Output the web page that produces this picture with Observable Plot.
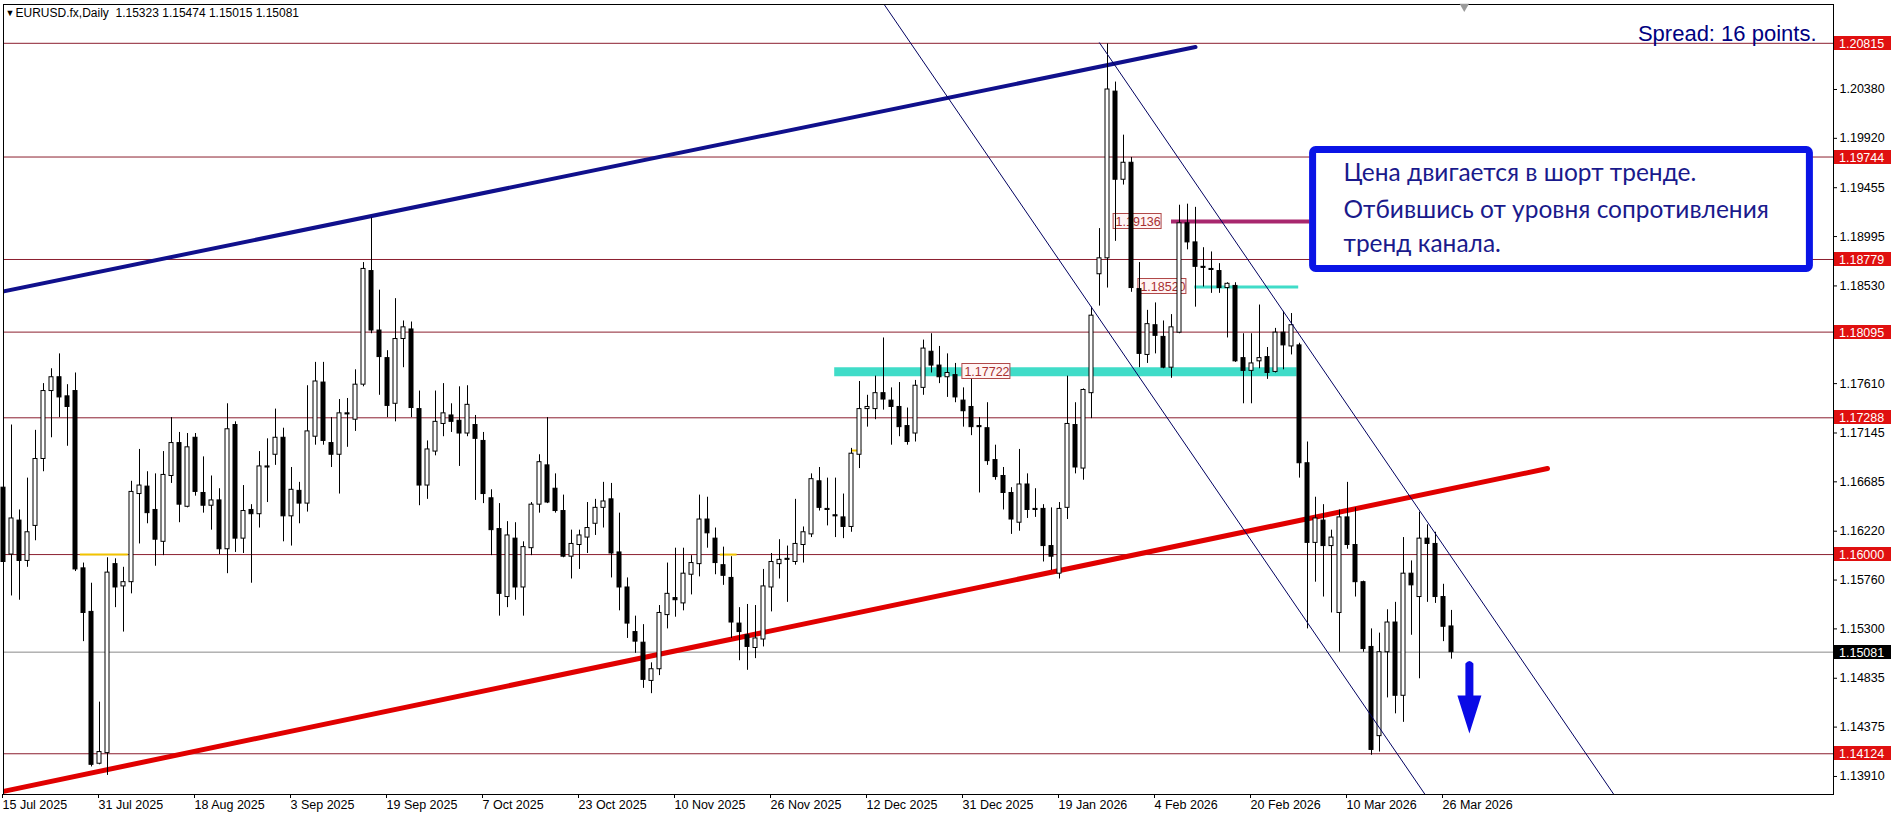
<!DOCTYPE html>
<html><head><meta charset="utf-8">
<script src="https://cdn.jsdelivr.net/npm/d3@7"></script>
<script src="https://cdn.jsdelivr.net/npm/@observablehq/plot@0.6"></script>
<style>
html,body{margin:0;padding:0;background:#fff;overflow:hidden}
#chart{width:1902px;height:819px}
</style></head><body><div id="chart"></div>
<script>
// ---- data ----
const symbol = "EURUSD.fx", timeframe = "Daily";
const tickLabels = ["15 Jul 2025","31 Jul 2025","18 Aug 2025","3 Sep 2025","19 Sep 2025","7 Oct 2025","23 Oct 2025","10 Nov 2025","26 Nov 2025","12 Dec 2025","31 Dec 2025","19 Jan 2026","4 Feb 2026","20 Feb 2026","10 Mar 2026","26 Mar 2026"];
const tickIndex = [0,12,24,36,48,60,72,84,96,108,120,132,144,156,168,180];

const open = [
1.1663,1.1600,1.1632,1.1594,1.1627,1.1690,1.1754,1.1767,1.1749,1.1754,
1.1587,1.1546,1.1403,1.1413,1.1591,1.1570,1.1574,1.1657,1.1664,1.1642,
1.1612,1.1674,1.1705,1.1645,1.1710,1.1658,1.1646,1.1651,1.1605,1.1722,
1.1615,1.1642,1.1638,1.1682,1.1694,1.1710,1.1636,1.1660,1.1648,1.1711,
1.1762,1.1705,1.1694,1.1733,1.1727,1.1760,1.1867,1.1811,1.1785,1.1742,
1.1803,1.1812,1.1737,1.1665,1.1697,1.1723,1.1731,1.1726,1.1714,1.1722,
1.1707,1.1653,1.1624,1.1560,1.1615,1.1569,1.1606,1.1647,1.1684,1.1662,
1.1641,1.1598,1.1609,1.1616,1.1629,1.1644,1.1652,1.1602,1.1569,1.1527,
1.1517,1.1481,1.1492,1.1543,1.1559,1.1554,1.1581,1.1591,1.1633,1.1615,
1.1590,1.1578,1.1535,1.1524,1.1512,1.1520,1.1569,1.1591,1.1595,1.1593,
1.1609,1.1619,1.1669,1.1642,1.1637,1.1635,1.1626,1.1694,1.1737,1.1737,
1.1752,1.1745,1.1739,1.1721,1.1714,1.1757,1.1791,1.1778,1.1767,1.1769,
1.1745,1.1739,1.1721,1.1719,1.1689,1.1674,1.1658,1.1630,1.1666,1.1642,
1.1643,1.1608,1.1582,1.1644,1.1722,1.1681,1.1752,1.1864,1.1879,1.2036,
1.1953,1.1969,1.1850,1.1788,1.1816,1.1805,1.1776,1.1809,1.1912,1.1894,
1.1871,1.1869,1.1867,1.1851,1.1853,1.1785,1.1773,1.1782,1.1786,1.1772,
1.1809,1.1796,1.1797,1.1686,1.1611,1.1632,1.1608,1.1545,1.1635,1.1609,
1.1574,1.1513,1.1429,1.1508,1.1536,1.1467,1.1582,1.1560,1.1615,1.1610,
1.1560,1.15323];
const high = [
1.1691,1.1722,1.1642,1.1672,1.1717,1.1761,1.1775,1.1789,1.1760,1.1771,
1.1592,1.1573,1.1461,1.1597,1.1596,1.1588,1.1669,1.1699,1.1678,1.1676,
1.1697,1.1729,1.1715,1.1714,1.1714,1.1692,1.1674,1.1662,1.1742,1.1725,
1.1665,1.1647,1.1697,1.1709,1.1737,1.1719,1.1682,1.1668,1.1759,1.1781,
1.1781,1.1729,1.1746,1.1747,1.1774,1.1875,1.1917,1.1849,1.1792,1.1841,
1.1820,1.1819,1.1754,1.1707,1.1754,1.1761,1.1742,1.1758,1.1759,1.1731,
1.1715,1.1661,1.1648,1.1631,1.1630,1.1612,1.1649,1.1694,1.1729,1.1676,
1.1656,1.1623,1.1623,1.1649,1.1652,1.1668,1.1667,1.1639,1.1578,1.1542,
1.1534,1.1498,1.1552,1.1592,1.1606,1.1606,1.1599,1.1656,1.1654,1.1625,
1.1607,1.1598,1.1550,1.1553,1.1552,1.1586,1.1601,1.1614,1.1608,1.1652,
1.1626,1.1676,1.1682,1.1672,1.1672,1.1657,1.1700,1.1763,1.1750,1.1768,
1.1804,1.1757,1.1762,1.1738,1.1764,1.1802,1.1808,1.1796,1.1789,1.1780,
1.1757,1.1765,1.1729,1.1743,1.1703,1.1682,1.1663,1.1699,1.1676,1.1662,
1.1647,1.1644,1.1649,1.1768,1.1743,1.1756,1.1833,1.1907,1.2081,1.2045,
1.1995,1.1974,1.1875,1.1830,1.1837,1.1820,1.1826,1.1929,1.1930,1.1927,
1.1889,1.1885,1.1874,1.1856,1.1856,1.1808,1.1808,1.1835,1.1795,1.1813,
1.1829,1.1827,1.1799,1.1706,1.1654,1.1647,1.1623,1.1642,1.1668,1.1644,
1.1575,1.1530,1.1526,1.1548,1.1555,1.1616,1.1594,1.1640,1.1628,1.1621,
1.1572,1.15474];
const low = [
1.1592,1.1561,1.1557,1.1588,1.1613,1.1678,1.1710,1.1729,1.1702,1.1584,
1.1518,1.1400,1.1402,1.1392,1.1550,1.1527,1.1563,1.1610,1.1629,1.1589,
1.1599,1.1667,1.1630,1.1644,1.1655,1.1639,1.1623,1.1600,1.1582,1.1602,
1.1601,1.1573,1.1625,1.1649,1.1684,1.1612,1.1608,1.1629,1.1640,1.1703,
1.1703,1.1682,1.1657,1.1701,1.1716,1.1758,1.1808,1.1750,1.1729,1.1725,
1.1776,1.1729,1.1646,1.1652,1.1693,1.1711,1.1715,1.1683,1.1711,1.1651,
1.1648,1.1599,1.1542,1.1550,1.1557,1.1542,1.1599,1.1639,1.1648,1.1639,
1.1597,1.1577,1.1586,1.1601,1.1618,1.1625,1.1578,1.1547,1.1521,1.1507,
1.1474,1.1469,1.1486,1.1530,1.1541,1.1547,1.1562,1.1579,1.1606,1.1581,
1.1571,1.1521,1.1500,1.1491,1.1502,1.1513,1.1546,1.1577,1.1555,1.1590,
1.1592,1.1616,1.1641,1.1627,1.1616,1.1615,1.1621,1.1681,1.1720,1.1727,
1.1736,1.1703,1.1711,1.1703,1.1706,1.1750,1.1771,1.1761,1.1748,1.1743,
1.1720,1.1712,1.1658,1.1684,1.1670,1.1642,1.1619,1.1622,1.1634,1.1635,
1.1593,1.1585,1.1577,1.1633,1.1676,1.1670,1.1728,1.1834,1.1851,1.1895,
1.1948,1.1847,1.1776,1.1780,1.1789,1.1775,1.1766,1.1808,1.1887,1.1833,
1.1852,1.1846,1.1846,1.1804,1.1781,1.1742,1.1742,1.1775,1.1765,1.1771,
1.1774,1.1788,1.1672,1.1530,1.1574,1.1560,1.1545,1.1508,1.1605,1.1560,
1.1508,1.1411,1.1414,1.1465,1.1450,1.1442,1.1524,1.1483,1.1555,1.1554,
1.1518,1.15015];
const close = [
1.1593,1.1634,1.1594,1.1621,1.1690,1.1754,1.1767,1.1748,1.1739,1.1586,
1.1545,1.1402,1.1414,1.1583,1.1569,1.1574,1.1659,1.1665,1.1639,1.1614,
1.1675,1.1705,1.1647,1.1701,1.1659,1.1646,1.1651,1.1605,1.1718,1.1615,
1.1641,1.1638,1.1683,1.1683,1.1710,1.1636,1.1661,1.1648,1.1716,1.1763,
1.1707,1.1694,1.1733,1.1732,1.1760,1.1869,1.1811,1.1786,1.1740,1.1803,
1.1814,1.1738,1.1665,1.1699,1.1725,1.1733,1.1725,1.1714,1.1741,1.1709,
1.1657,1.1623,1.1563,1.1618,1.1569,1.1607,1.1647,1.1687,1.1649,1.1641,
1.1598,1.1610,1.1618,1.1625,1.1644,1.1650,1.1601,1.1569,1.1535,1.1518,
1.1482,1.1492,1.1545,1.1563,1.1557,1.1582,1.1592,1.1633,1.1620,1.1592,
1.1580,1.1536,1.1527,1.1513,1.1521,1.1570,1.1593,1.1595,1.1596,1.1610,
1.1621,1.1671,1.1644,1.1643,1.1636,1.1626,1.1695,1.1737,1.1739,1.1752,
1.1746,1.1739,1.1720,1.1706,1.1759,1.1794,1.1778,1.1767,1.1771,1.1748,
1.1735,1.1720,1.1720,1.1688,1.1673,1.1658,1.1633,1.1666,1.1642,1.1643,
1.1608,1.1598,1.1643,1.1723,1.1682,1.1755,1.1825,1.1879,1.2038,1.1953,
1.1969,1.1851,1.1789,1.1817,1.1806,1.1776,1.1814,1.1912,1.1894,1.1871,
1.1870,1.1868,1.1851,1.1855,1.1782,1.1773,1.1780,1.1785,1.1771,1.1809,
1.1797,1.1816,1.1686,1.1611,1.1634,1.1608,1.1616,1.1635,1.1609,1.1574,
1.1511,1.1416,1.1508,1.1536,1.1467,1.1582,1.1571,1.1615,1.1610,1.1560,
1.1532,1.15081];

const levels = [1.20815, 1.19744, 1.18779, 1.18095, 1.17288, 1.16000, 1.14124];
const bid = 1.15081;
const axisTicks = [1.20380,1.19920,1.19455,1.18995,1.18530,1.17610,1.17145,1.16685,1.16220,1.15760,1.15300,1.14835,1.14375,1.13910];
const spreadText = "Spread: 16 points.";
const shiftMarker = [182.6];

const redTrend   = [{i:0, p:1.1377}, {i:193, p:1.1681}];
const blueTrend  = [{i:-0.5, p:1.1847}, {i:149, p:1.2078}];
const channelA   = [{i:110, p:1.2119}, {i:177.7, p:1.1374}];
const channelB   = [{i:137, p:1.2082}, {i:201.3, p:1.1374}];

const tealZone   = [{p:1.17722, i1:103.9, i2:161.7}];
const tealLine   = [{p:1.18520, i1:148.9, i2:161.9}];
const purpleLine = [{p:1.19136, i1:146.0, i2:163.3}];
const yellowMarks = [{p:1.1600, i1:9.6, i2:15.6}, {p:1.1600, i1:89.6, i2:91.7}, {p:1.1698, i1:106.0, i2:107.3}];
const priceTags  = [{p:1.17722, i:119.8}, {p:1.18520, i:141.8}, {p:1.19136, i:138.7}];

const noteLines  = ["Цена двигается в шорт тренде.", "Отбившись от уровня сопротивления", "тренд канала."];
const notePrices = [1.19589, 1.19240, 1.18920];
const noteX = 167.5;
const noteBox = [{i1:163.7, i2:225.8, p1:1.19810, p2:1.18690}];
const arrowDown = {i:183.3, top:1.14997, headBase:1.14667, tip:1.14309};

// ---- build ----
const candles = open.map((o, i) => ({i, open:o, high:high[i], low:low[i], close:close[i]}));
const last = candles[candles.length - 1];
const headerText = `${symbol},${timeframe}\u00a0\u00a0${last.open.toFixed(5)} ${last.high.toFixed(5)} ${last.low.toFixed(5)} ${last.close.toFixed(5)}`;

const tagMark = (index, {x, y}) => {
  const g = d3.create("svg:g").attr("text-anchor", "start");
  for (const t of priceTags) {
    const X = x(t.i), Y = Math.round(y(t.p));
    g.append("rect").attr("x", X + 0.5).attr("y", Y - 7.5).attr("width", 48).attr("height", 15)
      .attr("fill", "#fff4f4").attr("stroke", "#b04848").attr("stroke-width", 1);
    g.append("text").attr("x", X + 3).attr("y", Y).attr("dy", "0.36em")
      .attr("font-size", 12.5).attr("fill", "#a83030").text(t.p.toFixed(5));
  }
  return g.node();
};

const arrowMark = (index, {x, y}) => {
  const X = x(arrowDown.i), T = y(arrowDown.top), H = y(arrowDown.headBase), P = y(arrowDown.tip);
  const g = d3.create("svg:g");
  g.append("path")
    .attr("d", `M${X-4},${T+3} Q${X},${T-2} ${X+4},${T+3} L${X+4},${H} L${X+12},${H} L${X},${P} L${X-12},${H} L${X-4},${H} Z`)
    .attr("fill", "#0a0ae6");
  return g.node();
};

const axisTags = (index, {y}, values, {width, marginRight}) => {
  const g = d3.create("svg:g").attr("font-size", 12.5).attr("text-anchor", "start");
  const x0 = width - marginRight + 1;
  const items = levels.map(p => ({p, bg:"#e01010"})).concat([{p:bid, bg:"#000"}]);
  for (const it of items) {
    const Y = Math.round(y(it.p));
    g.append("rect").attr("x", x0).attr("y", Y - 7).attr("width", 57).attr("height", 14).attr("fill", it.bg);
    g.append("text").attr("x", x0 + 5).attr("y", Y).attr("dy", "0.36em").attr("fill", "white").text(it.p.toFixed(5));
  }
  return g.node();
};

const chart = Plot.plot({
  width: 1902, height: 819,
  marginTop: 4, marginBottom: 25, marginLeft: 3, marginRight: 69,
  style: {fontFamily: "'Liberation Sans', Arial, sans-serif", fontSize: "12.5px", background: "white", color: "black"},
  x: {type: "linear", domain: [0, 228.75], axis: null},
  y: {type: "linear", domain: [1.137403, 1.211805], axis: null},
  marks: [
    Plot.ruleY(levels, {stroke: "#8b1f2f", strokeWidth: 1}),
    Plot.ruleY([bid], {stroke: "#8a8a8a", strokeWidth: 1}),
    Plot.ruleY(tealZone, {y: "p", x1: "i1", x2: "i2", stroke: "#40dcc8", strokeWidth: 9}),
    Plot.ruleY(tealLine, {y: "p", x1: "i1", x2: "i2", stroke: "#40dcc8", strokeWidth: 3}),
    Plot.ruleY(purpleLine, {y: "p", x1: "i1", x2: "i2", stroke: "#a8286e", strokeWidth: 4}),
    Plot.ruleY(yellowMarks, {y: "p", x1: "i1", x2: "i2", stroke: "#f2c400", strokeWidth: 2}),
    Plot.line(blueTrend, {x: "i", y: "p", stroke: "#10108c", strokeWidth: 4, clip: true}),
    Plot.line(redTrend, {x: "i", y: "p", stroke: "#e00000", strokeWidth: 5, clip: true}),
    tagMark,
    Plot.ruleX(candles, {x: "i", y1: "low", y2: "high", stroke: "black", strokeWidth: 1}),
    Plot.rect(candles, {x1: d => d.i - 0.25, x2: d => d.i + 0.25, y1: "open", y2: "close",
      fill: d => d.close >= d.open ? "white" : "black", stroke: "black", strokeWidth: 1}),
    Plot.line(channelA, {x: "i", y: "p", stroke: "#000060", strokeWidth: 1, clip: true}),
    Plot.line(channelB, {x: "i", y: "p", stroke: "#000060", strokeWidth: 1, clip: true}),
    Plot.rect(noteBox, {x1: "i1", x2: "i2", y1: "p1", y2: "p2", fill: "white", stroke: "#0a14e6", strokeWidth: 7, rx: 3}),
    Plot.text(noteLines, {x: () => noteX, y: (d, i) => notePrices[i], text: d => d, textAnchor: "start",
      fontSize: 24.5, fill: "#1a1a8c", fontFamily: "Lato, 'Open Sans', sans-serif"}),
    arrowMark,
    Plot.frame({stroke: "black"}),
    Plot.dot(shiftMarker, {x: d => d, frameAnchor: "top", symbol: "triangle", rotate: 180, r: 3.5, fill: "#9a9a9a", stroke: null, dy: 2}),
    Plot.axisY(axisTicks, {anchor: "right", tickFormat: d => d.toFixed(5), tickSize: 3, tickPadding: 3, label: null, fill: "black"}),
    Plot.axisX(tickIndex, {anchor: "bottom", tickFormat: d => tickLabels[tickIndex.indexOf(d)], tickSize: 4, tickPadding: 2,
      textAnchor: "start", dx: -1, label: null, fill: "black"}),
    axisTags,
    Plot.text(["\u25BC"], {frameAnchor: "top-left", text: d => d, dx: 2, dy: 5, fontSize: 9, textAnchor: "start", lineAnchor: "top"}),
    Plot.text([headerText], {frameAnchor: "top-left", text: d => d, dx: 12, dy: 4, fontSize: 12, textAnchor: "start", lineAnchor: "top"}),
    Plot.text([spreadText], {frameAnchor: "top-right", text: d => d, dx: -17, dy: 29, fontSize: 22, fill: "#000080", textAnchor: "end", lineAnchor: "middle"})
  ]
});
document.getElementById("chart").appendChild(chart);
</script>
</body></html>
